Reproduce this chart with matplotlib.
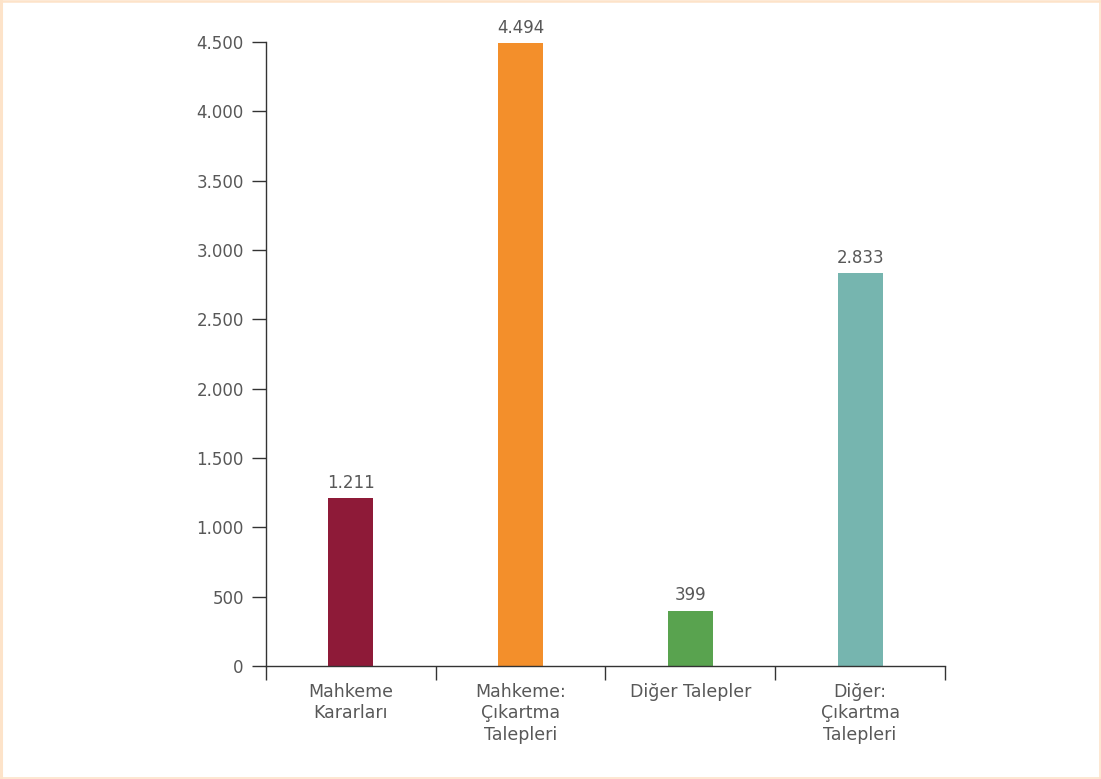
import matplotlib.pyplot as plt
from matplotlib.lines import Line2D

# Data
categories = ["Mahkeme\nKararları", "Mahkeme:\nÇıkartma\nTalepleri",
              "Diğer Talepler", "Diğer:\nÇıkartma\nTalepleri"]
values = [1211, 4494, 399, 2833]
bar_colors = ["#8E1A38", "#F38F2B", "#59A34F", "#76B5AF"]
y_ticks = [0, 500, 1000, 1500, 2000, 2500, 3000, 3500, 4000, 4500]

text_color = "#585858"
plt.rcParams['font.family'] = ['DejaVu Sans']


def fmt(v):
    return f"{v:,}".replace(",", ".")


fig = plt.figure(figsize=(11.01, 7.79), dpi=100)

# thin peach frame around the whole picture (heavier on left/top)
border = "#FDE3C9"
fig.add_artist(Line2D([0.0012, 0.0012], [0, 1], transform=fig.transFigure,
                      color=border, linewidth=2.2))
fig.add_artist(Line2D([0, 1], [0.9985, 0.9985], transform=fig.transFigure,
                      color=border, linewidth=1.8))
fig.add_artist(Line2D([0.9994, 0.9994], [0, 1], transform=fig.transFigure,
                      color=border, linewidth=1.2))
fig.add_artist(Line2D([0, 1], [0.0008, 0.0008], transform=fig.transFigure,
                      color=border, linewidth=1.2))

ax = fig.add_axes([0.2416, 0.145, 0.6167, 0.801])
x = list(range(len(categories)))
ax.bar(x, values, width=0.265, color=bar_colors)

for xi, v in zip(x, values):
    ax.text(xi, v + 45, fmt(v), ha='center', va='bottom',
            fontsize=12, color=text_color)

ax.set_xlim(-0.5, len(categories) - 0.5)
ax.set_ylim(0, 4500)
ax.set_yticks(y_ticks)
ax.set_yticklabels([fmt(t) for t in y_ticks], fontsize=12, color=text_color)

ax.set_xticks(x)
ax.set_xticklabels(categories, fontsize=12.5, color=text_color, va='top',
                   linespacing=1.25)
ax.set_xticks([i - 0.5 for i in range(len(categories) + 1)], minor=True)
ax.tick_params(axis='x', which='major', length=0, pad=12)
ax.tick_params(axis='x', which='minor', length=10, width=1, color="#333333",
               direction='out')
ax.tick_params(axis='y', length=10, width=1, color="#333333", pad=6)

for side in ['top', 'right']:
    ax.spines[side].set_visible(False)
for side in ['left', 'bottom']:
    ax.spines[side].set_color("#333333")
    ax.spines[side].set_linewidth(1)

fig.savefig("out.png", dpi=100, facecolor='white')
